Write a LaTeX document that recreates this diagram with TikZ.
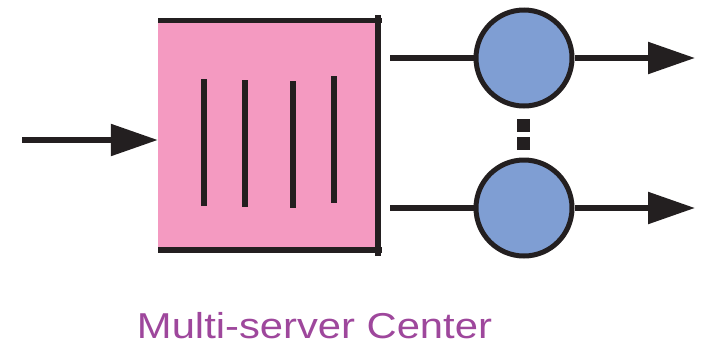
\documentclass[tikz,border=0pt]{standalone}
\usepackage{fontspec}
\setmainfont{Liberation Sans}
\usetikzlibrary{arrows.meta}
\definecolor{qpink}{HTML}{F49AC1}
\definecolor{sblue}{HTML}{7F9ED3}
\definecolor{ink}{HTML}{231F20}
\definecolor{lbl}{HTML}{9E479C}
\begin{document}
\begin{tikzpicture}[x=1pt,y=-1pt,
  wire/.style={draw=ink,line width=5.5pt},
  flow/.style={wire,-{Triangle[length=47pt,width=31pt]}},
  server/.style={circle,draw=ink,line width=5pt,fill=sblue,minimum size=96pt,inner sep=0pt},
  queuebox/.style={rectangle,fill=qpink,draw=none,minimum width=220pt,minimum height=230pt,inner sep=0pt},
  slot/.style={draw=ink,line width=5.5pt},
  dot/.style={rectangle,fill=ink,minimum size=13pt,inner sep=0pt}]
\useasboundingbox (0,0) rectangle (705,346);
% queue
\node[queuebox] (q) at (268,135) {};
\draw[wire] (158,20.5) -- (382,20.5);
\draw[wire] (158,250) -- (382,250);
\draw[wire] (378,15) -- (378,256);
\draw[slot] (204,79) -- (204,206);
\draw[slot] (245,80) -- (245,207);
\draw[slot] (293,81) -- (293,208);
\draw[slot] (334,76) -- (334,203);
% input
\coordinate (in) at (22,140);
\draw[flow] (in) -- (in -| q.west);
% servers
\node[server] (s1) at (524,58) {};
\node[server] (s2) at (524,208) {};
\coordinate (a1) at (390,58);
\coordinate (a2) at (390,208);
\coordinate (o1) at (695,58);
\coordinate (o2) at (695,208);
\draw[wire] (a1) -- (s1.west);
\draw[wire] (a2) -- (s2.west);
\draw[flow] (s1.east) -- (o1);
\draw[flow] (s2.east) -- (o2);
\node[dot] (d1) at (523,125) {};
\node[dot] (d2) at (523,143) {};
% label
\node[text=lbl,font=\fontsize{36}{40}\selectfont,anchor=base] (lab) at (314.5,338) {\scalebox{1.16}[1]{Multi-server Center}};
\end{tikzpicture}
\end{document}
